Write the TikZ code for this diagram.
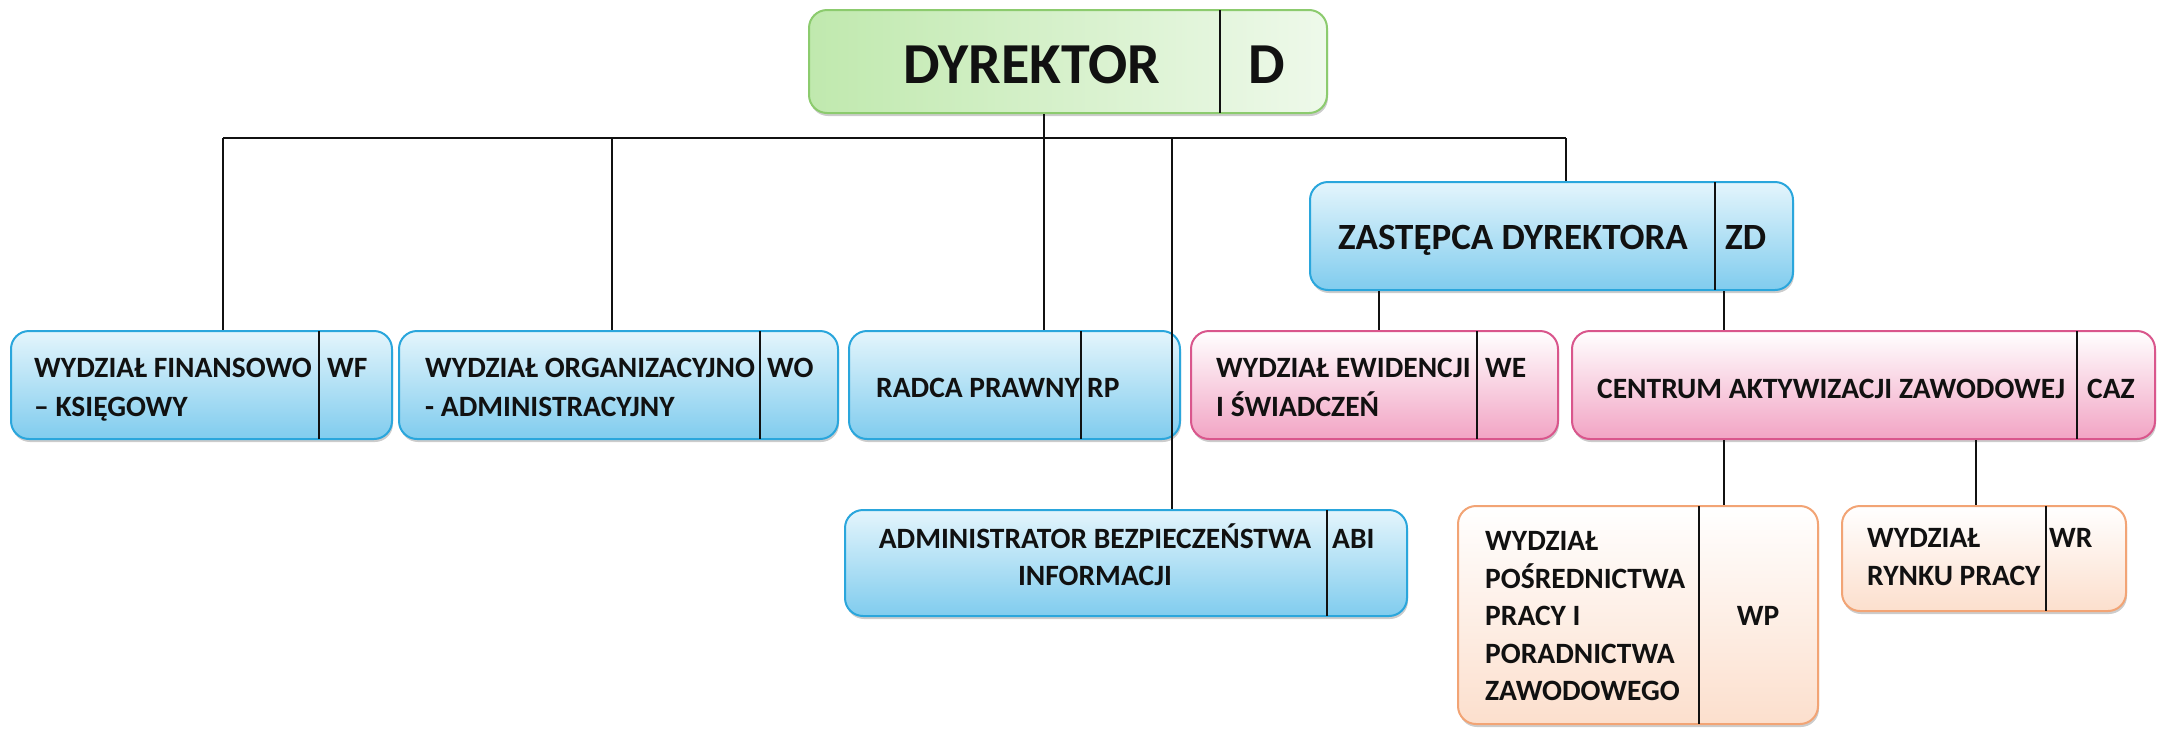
\documentclass[tikz,border=0pt]{standalone}
\usepackage{fontspec}
\setmainfont{Carlito}
\usetikzlibrary{shadows}
\definecolor{blueB}{HTML}{2AA6DC}
\definecolor{blueT}{HTML}{E4F5FC}
\definecolor{blueD}{HTML}{80CCEE}
\definecolor{pinkB}{HTML}{D9568C}
\definecolor{pinkD}{HTML}{F2A4C4}
\definecolor{peachB}{HTML}{F2A475}
\definecolor{peachD}{HTML}{FCDFCD}
\definecolor{greenB}{HTML}{8CCB6E}
\definecolor{greenL}{HTML}{C0E9AE}
\definecolor{greenR}{HTML}{EEF9EA}
\definecolor{ink}{HTML}{111111}
\tikzset{
  box/.style={draw, line width=2pt, rounded corners=18pt, inner sep=0pt,
    drop shadow={shadow xshift=1pt, shadow yshift=-3pt, opacity=0.4}},
  bluebox/.style={box, draw=blueB, top color=blueT, bottom color=blueD},
  pinkbox/.style={box, draw=pinkB, top color=white, bottom color=pinkD},
  peachbox/.style={box, draw=peachB, top color=white, bottom color=peachD},
  greenbox/.style={box, draw=greenB, left color=greenL, right color=greenR},
  divider/.style={draw=ink, line width=2.5pt},
  conn/.style={draw=ink, line width=2.5pt},
  lbl/.style={inner sep=0pt, text=ink, font=\fontsize{29.5}{35}\selectfont\bfseries},
  lblmid/.style={inner sep=0pt, text=ink, font=\fontsize{37}{44}\selectfont\bfseries},
  lblbig/.style={inner sep=0pt, text=ink, font=\fontsize{58}{70}\selectfont\bfseries},
}
\begin{document}
\begin{tikzpicture}[x=1pt,y=-1pt]
\useasboundingbox (0,0) rectangle (2162,729);
% boxes
\node[greenbox, minimum width=518pt, minimum height=103pt] (dyr) at (1068,61.5) {};
\node[bluebox, minimum width=483pt, minimum height=108pt] (zd) at (1551.5,236) {};
\node[bluebox, minimum width=381pt, minimum height=108pt] (wf) at (201.5,385) {};
\node[bluebox, minimum width=439pt, minimum height=108pt] (wo) at (618.5,385) {};
\node[bluebox, minimum width=331pt, minimum height=108pt] (rp) at (1014.5,385) {};
\node[pinkbox, minimum width=367pt, minimum height=108pt] (we) at (1374.5,385) {};
\node[pinkbox, minimum width=583pt, minimum height=108pt] (caz) at (1863.5,385) {};
\node[bluebox, minimum width=562pt, minimum height=106pt] (abi) at (1126,563) {};
\node[peachbox, minimum width=360pt, minimum height=218pt] (wp) at (1638,615) {};
\node[peachbox, minimum width=284pt, minimum height=105pt] (wr) at (1984,558.5) {};
% dividers
\draw[divider] (1220,10) -- (1220,113);
\draw[divider] (1715,182) -- (1715,290);
\draw[divider] (319,331) -- (319,439);
\draw[divider] (760,331) -- (760,439);
\draw[divider] (1081,331) -- (1081,439);
\draw[divider] (1477,331) -- (1477,439);
\draw[divider] (2077,331) -- (2077,439);
\draw[divider] (1327,510) -- (1327,616);
\draw[divider] (1699,506) -- (1699,724);
\draw[divider] (2046,506) -- (2046,611);
% texts
\node[lblbig, anchor=base west] (t-dyr) at (903,83.5) {DYREKTOR};
\node[lblbig, anchor=base west] (t-d) at (1248,83.5) {D};
\node[lblmid, anchor=base west] (t-zd) at (1338,249) {ZASTĘPCA DYREKTORA};
\node[lblmid, anchor=base west] (t-zd2) at (1725,249) {ZD};
\node[lbl, anchor=base west] (t-wf1) at (34,377) {WYDZIAŁ FINANSOWO};
\node[lbl, anchor=base west] (t-wf2) at (34,416) {– KSIĘGOWY};
\node[lbl, anchor=base west] (t-wf3) at (327,377) {WF};
\node[lbl, anchor=base west] (t-wo1) at (425,377) {WYDZIAŁ ORGANIZACYJNO};
\node[lbl, anchor=base west] (t-wo2) at (425,416) {- ADMINISTRACYJNY};
\node[lbl, anchor=base west] (t-wo3) at (767,377) {WO};
\node[lbl, anchor=base west] (t-rp1) at (876,397) {RADCA PRAWNY};
\node[lbl, anchor=base west] (t-rp2) at (1087,397) {RP};
\node[lbl, anchor=base west] (t-we1) at (1216,377) {WYDZIAŁ EWIDENCJI};
\node[lbl, anchor=base west] (t-we2) at (1216,416) {I ŚWIADCZEŃ};
\node[lbl, anchor=base west] (t-we3) at (1485,377) {WE};
\node[lbl, anchor=base west] (t-caz1) at (1597,398) {CENTRUM AKTYWIZACJI ZAWODOWEJ};
\node[lbl, anchor=base west] (t-caz2) at (2087,398) {CAZ};
\node[lbl, anchor=base] (t-abi1) at (1095,548) {ADMINISTRATOR BEZPIECZEŃSTWA};
\node[lbl, anchor=base] (t-abi2) at (1095,585) {INFORMACJI};
\node[lbl, anchor=base west] (t-abi3) at (1332,548) {ABI};
\node[lbl, anchor=base west] (t-wp1) at (1485,550) {WYDZIAŁ};
\node[lbl, anchor=base west] (t-wp2) at (1485,588) {POŚREDNICTWA};
\node[lbl, anchor=base west] (t-wp3) at (1485,625) {PRACY I};
\node[lbl, anchor=base west] (t-wp4) at (1485,663) {PORADNICTWA};
\node[lbl, anchor=base west] (t-wp5) at (1485,700) {ZAWODOWEGO};
\node[lbl, anchor=base] (t-wp6) at (1758,625) {WP};
\node[lbl, anchor=base west] (t-wr1) at (1867,547) {WYDZIAŁ};
\node[lbl, anchor=base west] (t-wr2) at (1867,585) {RYNKU PRACY};
\node[lbl, anchor=base west] (t-wr3) at (2049,547) {WR};
% connectors
\coordinate (busL) at (223,138);
\coordinate (busR) at (1566,138);
\coordinate (jD) at (1044,138);
\coordinate (jWO) at (612,138);
\coordinate (jABI) at (1172,138);
\coordinate (xWE) at (1379,0);
\coordinate (xCAZ) at (1724,0);
\coordinate (xWR) at (1976,0);
\draw[conn] (busL) -- (busR);
\draw[conn] (dyr.south -| jD) -- (jD);
\draw[conn] (busL) -- (wf.north -| busL);
\draw[conn] (jWO) -- (wo.north -| jWO);
\draw[conn] (jD) -- (rp.north -| jD);
\draw[conn] (jABI) -- (abi.north -| jABI);
\draw[conn] (busR) -- (zd.north -| busR);
\draw[conn] (zd.south -| xWE) -- (we.north -| xWE);
\draw[conn] (zd.south -| xCAZ) -- (caz.north -| xCAZ);
\draw[conn] (caz.south -| xCAZ) -- (wp.north -| xCAZ);
\draw[conn] (caz.south -| xWR) -- (wr.north -| xWR);
\end{tikzpicture}
\end{document}
